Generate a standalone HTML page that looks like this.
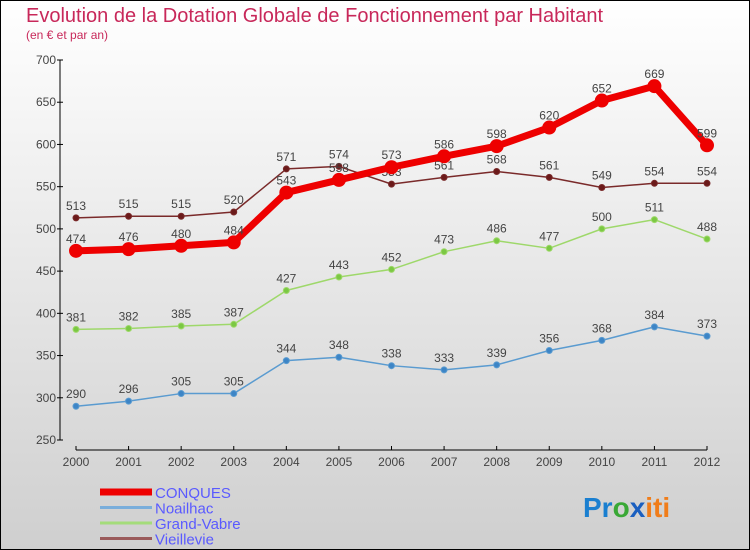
<!DOCTYPE html>
<html><head><meta charset="utf-8"><style>
body{margin:0;width:750px;height:550px;overflow:hidden}
svg{display:block;font-family:"Liberation Sans",sans-serif}
</style></head><body>
<svg id="c" width="750" height="550" xmlns="http://www.w3.org/2000/svg">
<defs><linearGradient id="bg" x1="0" y1="0" x2="0" y2="1"><stop offset="0" stop-color="#ffffff"/><stop offset="1" stop-color="#cfcfcf"/></linearGradient></defs>
<rect x="0.5" y="0.5" width="749" height="549" fill="url(#bg)" stroke="#000"/>
<text x="26" y="22" font-size="20" fill="#c8285a">Evolution de la Dotation Globale de Fonctionnement par Habitant</text>
<text x="26" y="39" font-size="12" fill="#c8285a">(en € et par an)</text>
<g id="axes"></g><g id="series"></g><g id="legend"></g>
<text x="583" y="517" font-size="28" font-weight="bold"><tspan fill="#1a7fd0">Pr</tspan><tspan fill="#3aa836">o</tspan><tspan fill="#1a5fc0">x</tspan><tspan fill="#f07d1a">iti</tspan></text>
</svg>
<script>
const years=[2000,2001,2002,2003,2004,2005,2006,2007,2008,2009,2010,2011,2012];
const yTicks=[250,300,350,400,450,500,550,600,650,700];
const conques=[474,476,480,484,543,558,573,586,598,620,652,669,599];
const noailhac=[290,296,305,305,344,348,338,333,339,356,368,384,373];
const grandVabre=[381,382,385,387,427,443,452,473,486,477,500,511,488];
const vieillevie=[513,515,515,520,571,574,553,561,568,561,549,554,554];
const NS="http://www.w3.org/2000/svg";
const X=i=>76+i*(707-76)/12;
const Y=v=>60+(700-v)*(380/450);
function mk(t,a,p){const e=document.createElementNS(NS,t);for(const k in a)e.setAttribute(k,a[k]);p.appendChild(e);return e;}
const ax=document.getElementById('axes');
let l=mk('line',{x1:60,y1:60,x2:60,y2:440,stroke:'#000'},ax);


l=mk('line',{x1:76,y1:450,x2:707,y2:450,stroke:'#000'},ax);


yTicks.forEach(v=>{mk('line',{x1:57,y1:Y(v),x2:63,y2:Y(v),stroke:'#000'},ax);
const t=mk('text',{x:56,y:Y(v)+4,'font-size':12,fill:'#444','text-anchor':'end'},ax);t.textContent=v;

});
years.forEach((y,i)=>{mk('line',{x1:X(i),y1:446,x2:X(i),y2:450,stroke:'#000'},ax);
const t=mk('text',{x:X(i),y:466,'font-size':12,fill:'#444','text-anchor':'middle'},ax);t.textContent=y;

});
const sg=document.getElementById('series');
function series(name,vals,color,w,r,dot){
const g=mk('g',{},sg);


const p=mk('polyline',{points:vals.map((v,i)=>X(i)+','+Y(v)).join(' '),fill:'none',stroke:color,'stroke-width':w,'stroke-linejoin':'round'},g);


vals.forEach((v,i)=>{const c=mk('circle',{cx:X(i),cy:Y(v),r:r,fill:dot,stroke:color,'stroke-width':r>4?2:1},g);


const t=mk('text',{x:X(i),y:Y(v)-8,'font-size':12,fill:'#444','text-anchor':'middle'},g);t.textContent=v;

});}
series('noailhac',noailhac,'#5a9bd0',1.5,3,'#3d85c6');
series('grand-vabre',grandVabre,'#9ed86a',1.5,3,'#7bc843');
series('vieillevie',vieillevie,'#7a2a2a',1.5,3,'#6b1a1a');
series('conques',conques,'#ee0000',7,6,'#ee0000');
const lg=document.getElementById('legend');
[['CONQUES','#ee0000',7],['Noailhac','#7aaedb',3],['Grand-Vabre','#a4dc7a',3],['Vieillevie','#9a5a5a',3]].forEach((d,i)=>{
const y=492+i*15.5;
const ln=mk('line',{x1:100,y1:y,x2:152,y2:y,stroke:d[1],'stroke-width':d[2]},lg);


const t=mk('text',{x:155,y:y+6,'font-size':15,fill:'#5a5aff'},lg);t.textContent=d[0];

});
</script>
</body></html>
